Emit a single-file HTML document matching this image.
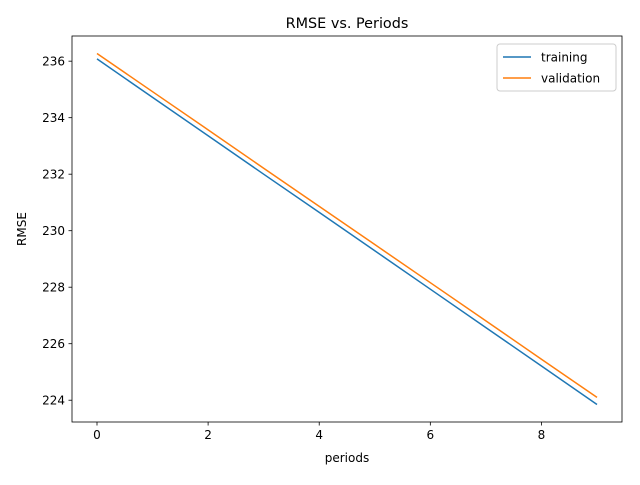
<!DOCTYPE html>
<html><head><meta charset="utf-8"><style>
body{margin:0;background:#fff;}
svg text{font-family:"DejaVu Sans","Liberation Sans",sans-serif;}
</style></head><body>
<svg id="chart" width="640" height="480" xmlns="http://www.w3.org/2000/svg">
<rect width="640" height="480" fill="#fff"/>
<text x="347" y="28" font-size="14.4" text-anchor="middle">RMSE vs. Periods</text>
<g id="plot"></g>
<text x="347" y="462" font-size="12" text-anchor="middle">periods</text>
<text x="26" y="229" font-size="12" text-anchor="middle" transform="rotate(-90 26 229)">RMSE</text>
</svg>
<script>
const periods=[0,1,2,3,4,5,6,7,8,9];
const training=[236.08,234.72,233.36,232.00,230.65,229.29,227.93,226.57,225.21,223.85];
const validation=[236.27,234.92,233.57,232.21,230.86,229.51,228.16,226.81,225.45,224.10];
const xTicks=[0,2,4,6,8];
const yTicks=[224,226,228,230,232,234,236];
const seriesNames=["training","validation"];
const colors=["#1f77b4","#ff7f0e"];

const L=72,R=622,T=36,B=422;
const all=training.concat(validation);
const ymin=Math.min(...all),ymax=Math.max(...all),yp=(ymax-ymin)*0.05;
const xmin=Math.min(...periods),xmax=Math.max(...periods),xp=(xmax-xmin)*0.05;
const xs=v=>L+(v-(xmin-xp))/((xmax+xp)-(xmin-xp))*(R-L);
const ys=v=>B-(v-(ymin-yp))/((ymax+yp)-(ymin-yp))*(B-T);
const NS="http://www.w3.org/2000/svg";
const g=document.getElementById('plot');
function mk(t,a){const e=document.createElementNS(NS,t);for(const k in a)e.setAttribute(k,a[k]);g.appendChild(e);return e;}
[training,validation].forEach((s,i)=>{
 const p=mk('polyline',{points:s.map((v,j)=>xs(periods[j])+','+ys(v)).join(' '),fill:'none',stroke:colors[i],'stroke-width':1.5});
 
 
});
const fr=mk('rect',{x:L,y:T,width:R-L,height:B-T,fill:'none',stroke:'#000','stroke-width':0.8});


xTicks.forEach(v=>{
 const x=xs(v);
 mk('line',{x1:x,x2:x,y1:B,y2:B+3.5,stroke:'#000','stroke-width':0.8});
 const t=mk('text',{x:x,y:B+17,'font-size':12,'text-anchor':'middle'});t.textContent=v;
 
 
});
yTicks.forEach(v=>{
 const y=ys(v);
 mk('line',{x1:L-3.5,x2:L,y1:y,y2:y,stroke:'#000','stroke-width':0.8});
 const t=mk('text',{x:L-7,y:y+4.5,'font-size':12,'text-anchor':'end'});t.textContent=v;
 
 
});
const lg=mk('rect',{x:497,y:44,width:119,height:47,rx:3,fill:'#fff',stroke:'#ccc','stroke-width':1});


seriesNames.forEach((n,i)=>{
 const y=57+i*21;
 mk('line',{x1:503,x2:531,y1:y,y2:y,stroke:colors[i],'stroke-width':1.5});
 const t=mk('text',{x:541,y:y+4.5,'font-size':12});t.textContent=n;
 
 
});
</script>
</body></html>
